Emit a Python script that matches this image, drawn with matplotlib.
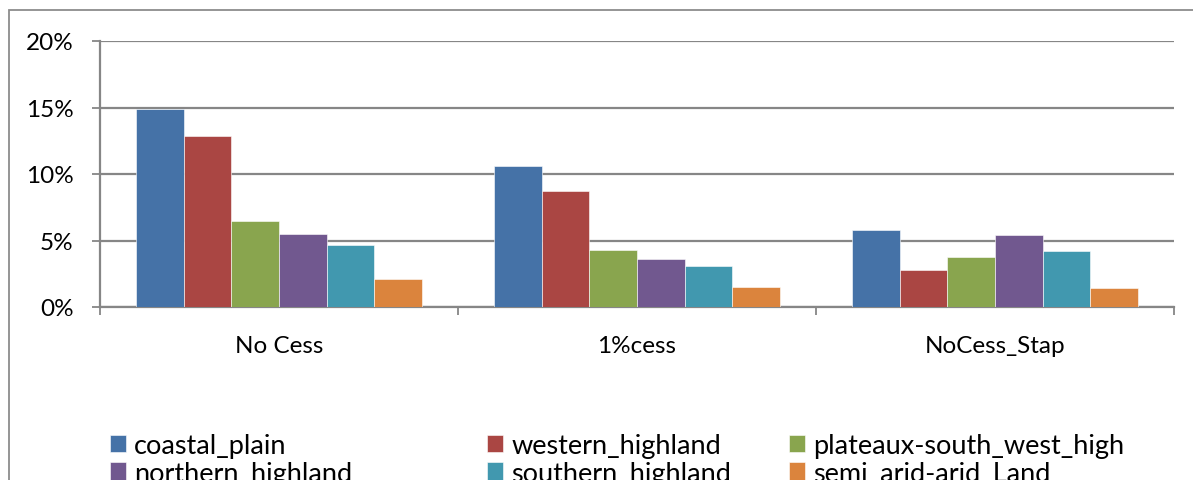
import numpy as np
import matplotlib
matplotlib.use('Agg')
import matplotlib.pyplot as plt
from matplotlib.patches import Rectangle

plt.rcParams['font.family'] = ['Lato', 'DejaVu Sans']

# data
scenarios = ['No Cess', '1%cess', 'NoCess_Stap']
regions = ['coastal_plain', 'western_highland', 'plateaux-south_west_high',
           'northern_highland', 'southern_highland', 'semi_arid-arid_Land']
coastal_plain = [14.9, 10.6, 5.8]
western_highland = [12.85, 8.7, 2.8]
plateaux_south_west_high = [6.5, 4.3, 3.75]
northern_highland = [5.5, 3.6, 5.45]
southern_highland = [4.65, 3.05, 4.2]
semi_arid_land = [2.1, 1.5, 1.45]
values = [coastal_plain, western_highland, plateaux_south_west_high,
          northern_highland, southern_highland, semi_arid_land]
colors = ['#4572A7', '#AA4643', '#89A54E', '#71588F', '#4198AF', '#DB843D']

W, H = 1193, 481
fig = plt.figure(figsize=(W / 100, H / 100), dpi=100)
ax = fig.add_axes([100 / W, 1 - 308 / H, 1074 / W, 266 / H])

# outer chart border (cut off at right and bottom)
fig.patches.append(Rectangle((9 / W, -0.2), 1.2, 1 - 11 / H + 0.2,
                             transform=fig.transFigure, fill=False,
                             edgecolor='#8c8c8c', linewidth=1.3, clip_on=False))

x = np.arange(len(scenarios))
bw = 0.8 / len(regions)
bars = []
for i, (name, vals) in enumerate(zip(regions, values)):
    b = ax.bar(x - 0.4 + bw * (i + 0.5), vals, bw, color=colors[i],
               edgecolor='white', linewidth=0.4, label=name, zorder=3)
    bars.append(b)

ax.set_xlim(-0.5, len(scenarios) - 0.5)
ax.set_ylim(0, 20)
ax.set_yticks([0, 5, 10, 15, 20])
ax.set_yticklabels(['0%', '5%', '10%', '15%', '20%'], fontsize=17.5)
ax.yaxis.grid(True, color='#868686', linewidth=1.6, zorder=0)
ax.set_axisbelow(True)

ax.set_xticks(np.arange(len(scenarios) + 1) - 0.5)
ax.set_xticklabels([])
ax.set_xticks(x, minor=True)
ax.set_xticklabels(scenarios, minor=True, fontsize=17.5)
ax.tick_params(axis='x', which='minor', length=0, pad=20)
ax.tick_params(axis='x', which='major', length=6, width=1.3, color='#868686', direction='out')
ax.tick_params(axis='y', length=6, width=1.3, color='#868686', pad=13)

for s in ['top', 'right']:
    ax.spines[s].set_visible(False)
for s in ['left', 'bottom']:
    ax.spines[s].set_color('#868686')
    ax.spines[s].set_linewidth(1.6)

# legend in three columns, filled row-wise (second row is cut by the frame edge)
col_x = [99, 476, 778]
for c in range(3):
    hs = [bars[c], bars[c + 3]]
    ls = [regions[c], regions[c + 3]]
    fig.legend(hs, ls, loc='upper left', bbox_to_anchor=(col_x[c] / W, 1 - 423 / H),
               frameon=False, fontsize=19.5, handlelength=0.6, handleheight=0.6,
               handletextpad=0.3, labelspacing=0.1, borderaxespad=0)

fig.savefig('out.png', dpi=100)
